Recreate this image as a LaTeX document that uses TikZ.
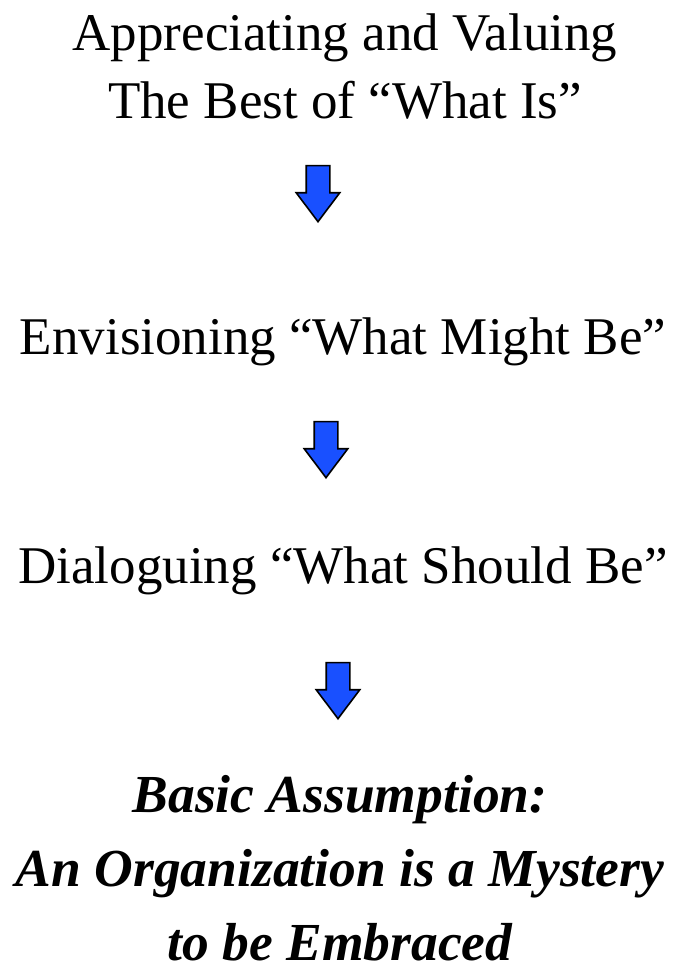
\documentclass[tikz,border=0pt]{standalone}
\usepackage{fontspec}
\setmainfont{Liberation Serif}
\usetikzlibrary{shapes.arrows, positioning}
\definecolor{arrowblue}{RGB}{25,80,255}

\begin{document}
\begin{tikzpicture}[
        x=1pt, y=-1pt,
        stage/.style={font=\fontsize{53}{68}\selectfont, align=center, inner sep=0pt, anchor=base},
        assume/.style={font=\fontsize{53.5}{74}\selectfont\bfseries\itshape, align=center, inner sep=0pt, anchor=base},
        downarrow/.style={single arrow, draw=black, line width=1.6pt, fill=arrowblue, minimum height=56pt, minimum width=42pt, single arrow head extend=10pt, single arrow tip angle=74, inner sep=11pt, shape border rotate=270, anchor=tip}
    ]
    \useasboundingbox (0,0) rectangle (676,972);
    % base anchor sits on the last line
    \node[stage] (appreciate) at (345, 118) {Appreciating and Valuing\\The Best of “What Is”};
    \node[stage] (envision) at (343, 354) {Envisioning “What Might Be”};
    \node[stage] (dialogue) at (343, 583) {Dialoguing “What Should Be”};
    \node[assume] (assumption) at (340, 960) {Basic Assumption:\\An Organization is a Mystery\\to be Embraced};
    \node[downarrow] (arrowA) at (318, 223) {};
    \node[downarrow] (arrowB) at (326, 479) {};
    \node[downarrow] (arrowC) at (338, 720) {};
\end{tikzpicture}
\end{document}
